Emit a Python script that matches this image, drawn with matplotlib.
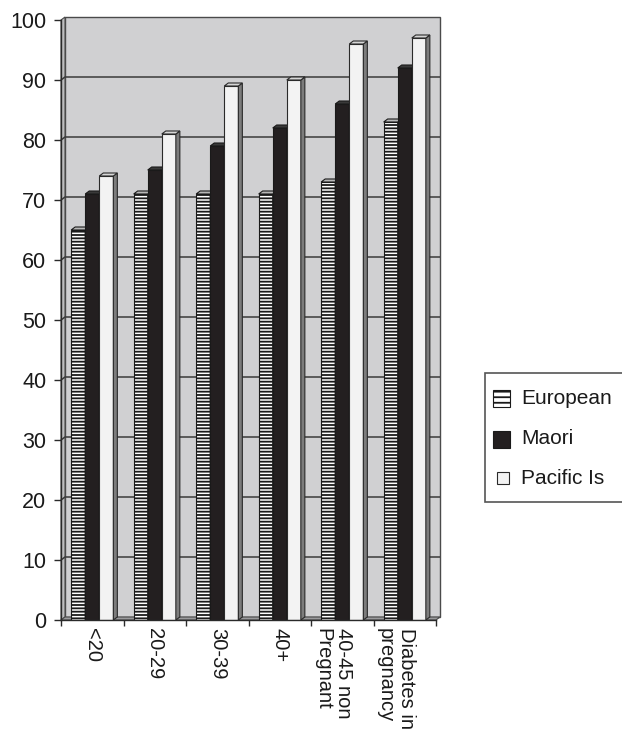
import matplotlib
matplotlib.use("Agg")
import matplotlib.pyplot as plt
import matplotlib.transforms as mtransforms
from matplotlib.patches import Rectangle, Polygon
import numpy as np

# ---- data -------------------------------------------------------------
categories = ["<20", "20-29", "30-39", "40+", "40-45 non\nPregnant", "Diabetes in\npregnancy"]
series_names = ["European", "Maori", "Pacific Is"]
european = [65, 71, 71, 71, 73, 83]
maori = [71, 75, 79, 82, 86, 92]
pacific = [74, 81, 89, 90, 96, 97]
y_ticks = [0, 10, 20, 30, 40, 50, 60, 70, 80, 90, 100]

# ---- style ------------------------------------------------------------
plt.rcParams["font.family"] = ["Liberation Sans", "DejaVu Sans"]
plt.rcParams["hatch.linewidth"] = 1.3

W, H = 622, 733
fig = plt.figure(figsize=(W / 100, H / 100), dpi=100)
fig.patch.set_facecolor("white")

# axes frame in pixel terms: left 61, right 436, top 20, bottom 620
ax = fig.add_axes([61 / W, 1 - 620 / H, 375 / W, 600 / H])
n = len(categories)
ymax = y_ticks[-1]
ax.set_xlim(0, n)
ax.set_ylim(0, ymax)
ax.patch.set_visible(False)

# depth of the pseudo-3D extrusion (4 px right, 3 px up)
ddx = 4 * n / 375
ddy = 3 * ymax / 600

edge = "#4a4a4a"
# back wall, side wall and floor
ax.add_patch(Rectangle((ddx, ddy), n, ymax, fc="#d0d0d2", ec=edge, lw=1.0,
                       zorder=0, clip_on=False))
ax.add_patch(Polygon([(0, 0), (ddx, ddy), (ddx, ymax + ddy), (0, ymax)],
                     closed=True, fc="#bdbdbf", ec=edge, lw=0.8, zorder=0.5,
                     clip_on=False))
ax.add_patch(Polygon([(0, 0), (n, 0), (n + ddx, ddy), (ddx, ddy)],
                     closed=True, fc="#9a9a9c", ec=edge, lw=0.8, zorder=0.5,
                     clip_on=False))

# gridlines on the walls
for v in y_ticks[1:-1]:
    ax.plot([0, ddx, n + ddx], [v, v + ddy, v + ddy], color="#3a3a3a",
            lw=1.1, zorder=1, clip_on=False, solid_capstyle="butt")

# ---- bars -------------------------------------------------------------
bw = 0.225
series = [european, maori, pacific]
styles = [
    dict(front="white", hatch="-----", top="#b8b8b8", side="#707070", ec="#1a1a1a"),
    dict(front="#231f20", hatch=None, top="#3a3a3a", side="#151515", ec="#1a1a1a"),
    dict(front="#f3f3f3", hatch=None, top="#d6d6d6", side="#7c7c7c", ec="#2a2a2a"),
]
x_centers = np.arange(n) + 0.5
for j, (vals, st) in enumerate(zip(series, styles)):
    x_left = x_centers + (j - 1) * bw - bw / 2
    z = 3 + j
    ax.bar(x_left, vals, width=bw, align="edge", color=st["front"],
           edgecolor=st["ec"], linewidth=0.8, hatch=st["hatch"], zorder=z,
           label=series_names[j])
    for x0, h in zip(x_left, vals):
        top = Polygon([(x0, h), (x0 + bw, h), (x0 + bw + ddx, h + ddy),
                       (x0 + ddx, h + ddy)], closed=True, fc=st["top"],
                      ec=st["ec"], lw=0.8, zorder=z, clip_on=False)
        side = Polygon([(x0 + bw, 0), (x0 + bw + ddx, ddy),
                        (x0 + bw + ddx, h + ddy), (x0 + bw, h)], closed=True,
                       fc=st["side"], ec=st["ec"], lw=0.8, zorder=z,
                       clip_on=False)
        ax.add_patch(side)
        ax.add_patch(top)

# ---- axes, ticks ------------------------------------------------------
for s in ("top", "right"):
    ax.spines[s].set_visible(False)
for s in ("left", "bottom"):
    ax.spines[s].set_color("#2a2a2a")
    ax.spines[s].set_linewidth(1.0)
    ax.spines[s].set_zorder(10)

ax.set_yticks(y_ticks)
ax.set_yticklabels([str(v) for v in y_ticks])
ax.tick_params(axis="y", direction="out", length=5, width=1, color="#2a2a2a",
               labelsize=15.5, pad=5.5, labelcolor="#1a1a1a")

ax.set_xticks(np.arange(n + 1))
ax.set_xticklabels([])
ax.tick_params(axis="x", direction="out", length=4.5, width=1, color="#2a2a2a")

# category labels, rotated to read downward
for i, lab in enumerate(categories):
    shift = -9 if "\n" in lab else 0
    tr = ax.get_xaxis_transform() + mtransforms.ScaledTranslation(
        shift / 100, -8 / 100, fig.dpi_scale_trans)
    ax.text(x_centers[i], 0, lab, transform=tr, rotation=270, fontsize=14.5,
            ha="center", va="top", multialignment="left", color="#1a1a1a",
            linespacing=1.15)

# ---- legend -----------------------------------------------------------
def fpx(x, y):
    return (x / W, 1 - y / H)

box_l, box_t, box_b = 485, 373, 502
fig.patches.append(Rectangle(fpx(box_l, box_b), (W + 5 - box_l) / W,
                             (box_b - box_t) / H, transform=fig.transFigure,
                             fc="white", ec="#555555", lw=1.2, zorder=1))
entry_y = [399, 439, 478]
icon_boxes = [(493, 17), (493, 17), (497, 12)]
for (ix, sz), yc, st, name in zip(icon_boxes, entry_y, styles, series_names):
    fig.patches.append(Rectangle(fpx(ix, yc + sz / 2), sz / W, sz / H,
                                 transform=fig.transFigure, fc=st["front"],
                                 ec=st["ec"], lw=0.8,
                                 hatch="---" if st["hatch"] else None,
                                 zorder=2))
    fig.text(*fpx(521, yc), name, fontsize=15, va="center", ha="left",
             color="#1a1a1a", zorder=3)

fig.savefig("out.png", dpi=100, facecolor="white")
